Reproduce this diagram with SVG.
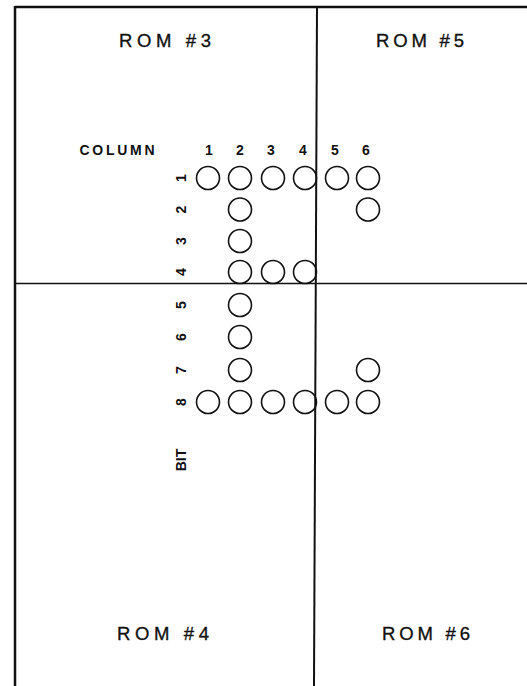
<svg xmlns="http://www.w3.org/2000/svg" width="527" height="686" viewBox="0 0 527 686">
<style>
.t{font-family:"Liberation Sans",Arial,sans-serif;fill:#111;stroke:#111;stroke-width:0.35}
.rom{font-size:18.5px;text-anchor:middle}
.n{font-size:14px;text-anchor:middle;font-weight:bold;stroke-width:0}
.b{fill:none;stroke:#111}
circle{fill:none;stroke:#111;stroke-width:1.6}
</style>
<rect width="527" height="686" fill="#fff"/>
<g id="connectors">
<line class="b" x1="15" y1="7" x2="527" y2="7" stroke-width="2.5"/>
<line class="b" x1="15" y1="6" x2="15" y2="686" stroke-width="2.5"/>
<line class="b" x1="317" y1="7" x2="314" y2="686" stroke-width="2"/>
<line class="b" x1="15" y1="283.5" x2="527" y2="283.5" stroke-width="1.6"/>
</g>
<g id="rom3"><text class="t rom" x="165" y="47" textLength="92" lengthAdjust="spacing">ROM #3</text></g>
<g id="rom5"><text class="t rom" x="420" y="47" textLength="88" lengthAdjust="spacing">ROM #5</text></g>
<g id="rom4"><text class="t rom" x="163" y="640" textLength="92" lengthAdjust="spacing">ROM #4</text></g>
<g id="rom6"><text class="t rom" x="426" y="640" textLength="88" lengthAdjust="spacing">ROM #6</text></g>
<g id="column-labels">
<text class="t n" x="117" y="155" font-size="14.5" textLength="75" lengthAdjust="spacing">COLUMN</text>
<text class="t n" x="209" y="155">1</text>
<text class="t n" x="240" y="155">2</text>
<text class="t n" x="271" y="155">3</text>
<text class="t n" x="303" y="155">4</text>
<text class="t n" x="335" y="155">5</text>
<text class="t n" x="366" y="155">6</text>
</g>
<g id="row-labels">
<text class="t n" transform="translate(186,178) rotate(-90)">1</text>
<text class="t n" transform="translate(186,209.5) rotate(-90)">2</text>
<text class="t n" transform="translate(186,241) rotate(-90)">3</text>
<text class="t n" transform="translate(186,272) rotate(-90)">4</text>
<text class="t n" transform="translate(186,305) rotate(-90)">5</text>
<text class="t n" transform="translate(186,337) rotate(-90)">6</text>
<text class="t n" transform="translate(186,370) rotate(-90)">7</text>
<text class="t n" transform="translate(186,402) rotate(-90)">8</text>
<text class="t n" transform="translate(186,460) rotate(-90)">BIT</text>
</g>
<g id="dots">
<circle cx="208" cy="178" r="11.5"/><circle cx="240" cy="178" r="11.5"/><circle cx="273" cy="178" r="11.5"/><circle cx="305" cy="178" r="11.5"/><circle cx="337" cy="178" r="11.5"/><circle cx="368" cy="178" r="11.5"/>
<circle cx="240" cy="209.5" r="11.5"/><circle cx="368" cy="209.5" r="11.5"/>
<circle cx="240" cy="241" r="11.5"/>
<circle cx="240" cy="272" r="11.5"/><circle cx="273" cy="272" r="11.5"/><circle cx="305" cy="272" r="11.5"/>
<circle cx="240" cy="305" r="11.5"/>
<circle cx="240" cy="337" r="11.5"/>
<circle cx="240" cy="370" r="11.5"/><circle cx="368" cy="370" r="11.5"/>
<circle cx="208" cy="402" r="11.5"/><circle cx="240" cy="402" r="11.5"/><circle cx="273" cy="402" r="11.5"/><circle cx="305" cy="402" r="11.5"/><circle cx="337" cy="402" r="11.5"/><circle cx="368" cy="402" r="11.5"/>
</g>
</svg>
